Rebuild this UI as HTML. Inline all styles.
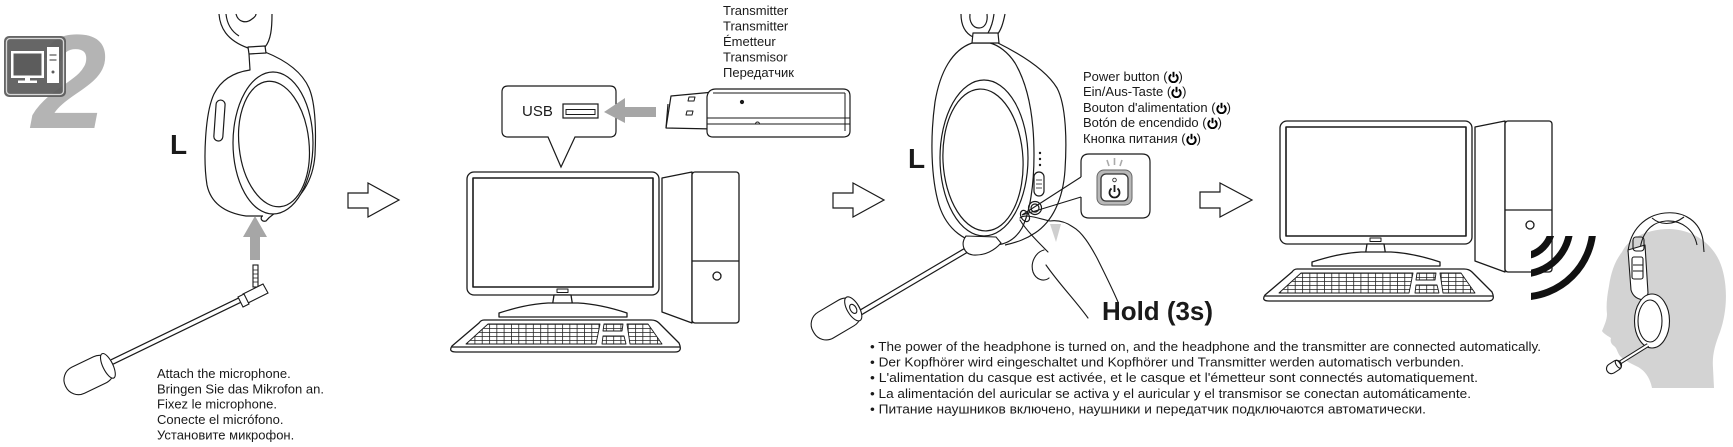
<!DOCTYPE html>
<html><head><meta charset="utf-8">
<style>
html,body{margin:0;padding:0;background:#fff;}
body{width:1733px;height:447px;position:relative;overflow:hidden;font-family:"Liberation Sans",Arial,sans-serif;color:#1a1a1a;}
svg.main{position:absolute;left:0;top:0;}
.t{position:absolute;font-size:13px;line-height:15.5px;white-space:pre;}
.pw{display:inline-block;width:11px;height:12px;vertical-align:-2px;}
</style></head><body>
<svg class="main" width="1733" height="447" viewBox="0 0 1733 447" xmlns="http://www.w3.org/2000/svg" font-family="Liberation Sans, Arial, sans-serif">
<defs>
 <clipPath id="wc"><rect x="1531" y="236" width="120" height="120"/></clipPath>
 <pattern id="kp" patternUnits="userSpaceOnUse" x="0" y="324" width="7.3" height="4">
   <path d="M0 0.4 H7.3 M0.4 0 V4" stroke="#222" stroke-width="0.8" fill="none"/>
 </pattern>
 <g id="pc" fill="#fff" stroke="#1a1a1a" stroke-width="1.3" stroke-linejoin="round">
   <path d="M662 178 L692 172 L692 323 L662 312 Z"/>
   <rect x="692" y="172" width="47" height="151" rx="3"/>
   <path d="M692 261 H739" fill="none"/>
   <circle cx="717" cy="276" r="4"/>
   <rect x="467" y="172" width="192" height="123" rx="7"/>
   <rect x="473" y="178" width="180" height="109" stroke-width="1.6"/>
   <rect x="557" y="289" width="11" height="3.5" stroke-width="1"/>
   <path d="M554 295 L571 295 L573 308 L552 308 Z"/>
   <path d="M499 313 C515 308 530 304 548 303 L578 303 C596 304 612 308 627 313 L627 317 L499 317 Z"/>
   <path d="M484 320 L651 320 Q656 320 659 323 L679 343 Q683 352 675 352 L456 352 Q448 352 452 346 L479 323 Q481 320 484 320 Z"/>
   <path d="M452 347 L680 347" fill="none"/>
   <path d="M488 324 L600 324 L596 344 L466 344 Z" fill="url(#kp)" stroke-width="0.9"/>
   <path d="M604 324 L623 324 L622 331 L603 331 Z" fill="url(#kp)" stroke-width="0.9"/>
   <path d="M603 336 L624 336 L626 344 L602 344 Z" fill="url(#kp)" stroke-width="0.9"/>
   <path d="M627 324 L648 324 L662 344 L630 344 Z" fill="url(#kp)" stroke-width="0.9"/>
 </g>
</defs>

<!-- Big 2 and icon -->
<text x="32" y="128" font-size="134" font-weight="bold" font-style="italic" fill="#b4b4b4">2</text>
<rect x="4" y="36" width="62" height="61" rx="5" fill="#5c5c5c" fill-opacity="0.94"/>
<rect x="6.5" y="38.5" width="57" height="56" rx="3.5" fill="none" stroke="#d8d8d8" stroke-width="1.3"/>
<rect x="11" y="51" width="33" height="27" fill="#fff"/>
<rect x="13.5" y="53.5" width="28" height="22" fill="#5c5c5c"/>
<rect x="25" y="78" width="5" height="3" fill="#fff"/>
<rect x="18" y="80.5" width="19" height="2.5" fill="#fff"/>
<rect x="47" y="47" width="12" height="36" fill="#fff"/>
<path d="M49.5 55 H56.5 M49.5 60 H56.5" stroke="#5c5c5c" stroke-width="1.3"/>
<circle cx="53" cy="72" r="1.5" fill="#5c5c5c"/>

<!-- Headphone 1 -->
<g fill="none" stroke="#1a1a1a" stroke-width="1.2" stroke-linejoin="round">
 <path d="M219 14 C220 27 226 40 248 48"/>
 <path d="M226 14 C227 24 231 31 239 36"/>
 <path d="M236 14 C238 22 246 24 252 19 C255 17 256 15 256 14"/>
 <path d="M272 14 C272 28 271 40 265 47"/>
 <path d="M265 52 C285 60 302 72 309 88 C316 104 316 135 315 155 C313 182 300 200 282 209 C275 213 270 216 266 221 C262 222 260 219 262 216" fill="#fff"/>
 <path d="M249 54 L250 70 C236 72 222 78 214 94 C205 113 203 160 207 185 C211 204 226 213 246 216 L263 216" fill="#fff"/>
 <path d="M248 47 L265 46 L266 53 L249 54 Z" fill="#fff"/>
 <rect x="215" y="100" width="9" height="41" rx="4.5" transform="rotate(4 219 120)"/>
 <ellipse cx="273" cy="143" rx="40" ry="71" fill="#fff"/>
 <ellipse cx="274" cy="144" rx="35" ry="63" transform="rotate(-6 274 144)"/>
</g>
<text x="170" y="154" font-size="28" font-weight="bold" fill="#1a1a1a">L</text>

<!-- up arrow -->
<path d="M255 216 L267 237 L260 237 L260 260 L250 260 L250 237 L243 237 Z" fill="#a6a6a6"/>

<!-- mic 1 -->
<g stroke="#1a1a1a" stroke-width="1.1" fill="#fff">
 <rect x="253" y="265" width="5" height="22" fill="#fff"/>
 <path d="M253 270 H258 M253 274 H258 M253 278 H258 M253 282 H258" fill="none" stroke-width="0.8"/>
 <line x1="240" y1="300" x2="112" y2="362" stroke-width="6"/>
 <line x1="240" y1="300" x2="112" y2="362" stroke="#fff" stroke-width="3.6"/>
 <path d="M243 294 L263 284 L268 293 L248 303 Z"/>
 <path d="M238 297 L244 294 L249 304 L243 307 Z"/>
 <g transform="translate(89,375) rotate(-25.8)">
  <rect x="-26" y="-14.5" width="52" height="29" rx="14"/>
  <ellipse cx="21" cy="0" rx="5" ry="13.5"/>
 </g>
</g>
<g font-size="13" fill="#1a1a1a">
 <text x="157" y="378">Attach the microphone.</text>
 <text x="157" y="393.3">Bringen Sie das Mikrofon an.</text>
 <text x="157" y="408.6">Fixez le microphone.</text>
 <text x="157" y="424">Conecte el micrófono.</text>
 <text x="157" y="439.3">Установите микрофон.</text>
</g>

<!-- outline arrows -->
<g fill="#fff" stroke="#1a1a1a" stroke-width="1.2" stroke-linejoin="miter">
 <path d="M348 193 H368 V183 L399 200 L368 217 V208 H348 Z"/>
 <path d="M833 193 H853 V183 L884 200 L853 217 V208 H833 Z"/>
 <path d="M1200 192 H1220 V183 L1252 200 L1220 217 V208 H1200 Z"/>
</g>

<!-- computers -->
<use href="#pc"/>
<use href="#pc" transform="translate(813,-51)"/>

<!-- USB bubble -->
<path d="M508 86 H610 Q616 86 616 92 V131 Q616 137 610 137 H575 L561 167 L548 137 H508 Q502 137 502 131 V92 Q502 86 508 86 Z" fill="#fff" stroke="#1a1a1a" stroke-width="1.2"/>
<text x="522" y="116" font-size="15" fill="#1a1a1a">USB</text>
<rect x="563" y="104" width="35" height="14" fill="#fff" stroke="#1a1a1a" stroke-width="1.2"/>
<rect x="566" y="109.5" width="29" height="5" fill="none" stroke="#1a1a1a" stroke-width="1"/>
<path d="M604 112 L625 98 L625 107 L656 107 L656 117 L625 117 L625 123 Z" fill="#a6a6a6"/>

<!-- transmitter -->
<g fill="#fff" stroke="#1a1a1a" stroke-width="1.2" stroke-linejoin="round">
 <path d="M671 96 L714 92 L714 129 L666 128 Z"/>
 <path d="M668 104 L666 128" fill="none"/>
 <path d="M689 97 L695 97 L694 101 L688 101 Z" stroke-width="1"/>
 <path d="M687 111 L693 111 L692 115 L686 115 Z" stroke-width="1"/>
 <path d="M716 89 H843 Q850 89 850 96 V131 Q850 137 843 137 H713 Q707 137 707 131 V97 Q708 89 716 89 Z"/>
 <path d="M713 93 H845 M707 118 H850 M707 124 H850 M845 93 V131" fill="none" stroke-width="1"/>
 <circle cx="742" cy="102" r="1.5" fill="#1a1a1a"/>
 <path d="M755.5 124 A2 2 0 0 1 759.5 124" fill="none" stroke-width="1"/>
</g>
<g font-size="13" fill="#1a1a1a">
 <text x="723" y="15">Transmitter</text>
 <text x="723" y="30.5">Transmitter</text>
 <text x="723" y="46">Émetteur</text>
 <text x="723" y="61.5">Transmisor</text>
 <text x="723" y="77">Передатчик</text>
</g>

<!-- Headphone 2 -->
<g fill="none" stroke="#1a1a1a" stroke-width="1.2" stroke-linejoin="round">
 <path d="M961 14 C961 25 965 33 973 37"/>
 <path d="M970 14 C969 22 973 28 979 28 C985 28 988 22 987 14"/>
 <path d="M994 14 C993 22 991 28 988 33"/>
 <path d="M1005 14 C1003 24 1001 30 997 35"/>
 <path d="M998 43 C1022 55 1046 70 1057 88 C1066 105 1067 140 1065 170 C1063 200 1052 222 1035 233 C1026 239 1018 242 1005 245" fill="#fff"/>
 <path d="M972 43 C952 50 940 72 935 102 C930 138 931 178 939 205 C947 230 965 243 990 245 C1005 246 1015 240 1022 228 C1030 212 1034 185 1034 155 C1034 115 1028 85 1015 63 C1008 52 998 45 990 43 Z" fill="#fff"/>
 <path d="M973 33 L998 33 L999 43 L972 43 Z" fill="#fff"/>
 <ellipse cx="984" cy="158" rx="44" ry="78"/>
 <ellipse cx="983" cy="160" rx="40" ry="71" transform="rotate(-3 983 160)"/>
 <rect x="1034" y="172" width="10" height="24" rx="5"/>
 <path d="M1036 180 H1042 M1036 184 H1042 M1036 188 H1042" stroke-width="0.8"/>
 <circle cx="1035" cy="208" r="6.5"/>
 <circle cx="1035" cy="208" r="4"/>
 <ellipse cx="1025" cy="216" rx="4" ry="6" transform="rotate(-30 1025 216)"/>
</g>
<circle cx="1040" cy="153" r="1.2" fill="#1a1a1a"/>
<circle cx="1040" cy="159" r="1.2" fill="#1a1a1a"/>
<circle cx="1040" cy="165" r="1.2" fill="#1a1a1a"/>
<text x="908" y="168" font-size="28" font-weight="bold" fill="#1a1a1a">L</text>

<!-- mic 2 -->
<g stroke="#1a1a1a" stroke-width="1.1" fill="#fff">
 <line x1="970" y1="248" x2="853" y2="317" stroke-width="6"/>
 <line x1="970" y1="248" x2="853" y2="317" stroke="#fff" stroke-width="3.6"/>
 <path d="M966 236 C960 244 964 254 973 255 C985 256 995 250 1001 243 L996 237 Z"/>
 <g transform="translate(836,319) rotate(-30.5)">
  <rect x="-26" y="-15" width="52" height="30" rx="14"/>
  <ellipse cx="20" cy="0" rx="6" ry="13.5"/>
  <ellipse cx="20" cy="0" rx="3" ry="5"/>
 </g>
</g>

<!-- hand -->
<g fill="none" stroke="#1a1a1a" stroke-width="1.1" stroke-linejoin="round" stroke-linecap="round">
 <path d="M1050 224 L1061 224 L1056 242 Z" fill="#cfcfcf" stroke="none"/>
 <path d="M1020 218 C1025 213 1040 219 1050 221 C1058 220 1066 222 1073 227 C1082 232 1090 245 1097 258 C1104 272 1112 288 1118 302"/>
 <path d="M1020 220 C1026 230 1038 242 1048 252"/>
 <path d="M1044 250 C1036 252 1030 262 1033 272 C1036 280 1044 282 1049 278"/>
 <path d="M1046 265 C1060 285 1075 300 1088 318"/>
</g>

<!-- callout -->
<path d="M1081 177 L1022 215 L1081 197" fill="none" stroke="#1a1a1a" stroke-width="1.1"/>
<path d="M1081 177 V162 Q1081 154 1089 154 H1142 Q1150 154 1150 162 V210 Q1150 218 1142 218 H1089 Q1081 218 1081 210 V197" fill="none" stroke="#1a1a1a" stroke-width="1.2"/>
<rect x="1097" y="170" width="35" height="35" rx="7" fill="#b8b8b8" stroke="#666" stroke-width="1"/>
<rect x="1101" y="174" width="27" height="27" rx="5" fill="#fff" stroke="#333" stroke-width="1.3"/>
<circle cx="1114.5" cy="180" r="1.8" fill="none" stroke="#333" stroke-width="0.9"/>
<path d="M1111.5 188.5 A5 5 0 1 0 1117.5 188.5" fill="none" stroke="#1a1a1a" stroke-width="1.8"/>
<path d="M1114.5 185 V192" stroke="#1a1a1a" stroke-width="1.8"/>
<path d="M1107 160 L1109 166 M1114.5 158 V165 M1122 160 L1120 166" stroke="#aaa" stroke-width="1.6"/>

<text x="1102" y="320" font-size="26" font-weight="bold" fill="#1a1a1a" textLength="111" lengthAdjust="spacingAndGlyphs">Hold (3s)</text>

<!-- bullets -->
<g font-size="13" fill="#1a1a1a">
 <text x="870" y="351" textLength="671" lengthAdjust="spacingAndGlyphs">• The power of the headphone is turned on, and the headphone and the transmitter are connected automatically.</text>
 <text x="870" y="366.6" textLength="594" lengthAdjust="spacingAndGlyphs">• Der Kopfhörer wird eingeschaltet und Kopfhörer und Transmitter werden automatisch verbunden.</text>
 <text x="870" y="382.2" textLength="608" lengthAdjust="spacingAndGlyphs">• L'alimentation du casque est activée, et le casque et l'émetteur sont connectés automatiquement.</text>
 <text x="870" y="397.8" textLength="601" lengthAdjust="spacingAndGlyphs">• La alimentación del auricular se activa y el auricular y el transmisor se conectan automáticamente.</text>
 <text x="870" y="413.4" textLength="556" lengthAdjust="spacingAndGlyphs">• Питание наушников включено, наушники и передатчик подключаются автоматически.</text>
</g>

<!-- waves -->
<g clip-path="url(#wc)" fill="none" stroke="#111" stroke-width="7">
 <path d="M1552 226 A30 30 0 0 1 1522 256"/>
 <path d="M1570 226 A48 48 0 0 1 1522 274"/>
 <path d="M1593 226 A71 71 0 0 1 1522 297"/>
</g>

<!-- person -->
<path d="M1622 252 C1630 236 1650 229 1670 229 C1695 230 1715 245 1722 268 C1728 288 1727 312 1720 332 C1715 345 1712 355 1713 368 L1714 388 L1652 388 C1650 378 1645 370 1636 366 C1630 363 1624 360 1620 356 C1617 352 1617 348 1614 346 C1611 344 1610 341 1611 338 C1608 336 1604 334 1602 331 C1604 326 1607 320 1607 314 C1606 306 1607 296 1609 286 C1611 272 1615 261 1622 252 Z" fill="#d3d3d3"/>
<g fill="none" stroke="#1a1a1a" stroke-width="1.1" stroke-linejoin="round">
 <path d="M1628 252 C1630 230 1645 215 1665 213 C1685 211 1700 222 1703 240 L1704 252"/>
 <path d="M1640 250 C1642 232 1652 222 1666 221 C1682 220 1694 230 1697 245"/>
 <path d="M1652 218 C1660 225 1672 226 1684 217"/>
 <path d="M1628 250 L1631 290 C1633 297 1638 300 1646 300 L1648 293 L1645 245 Z" fill="#fff"/>
 <rect x="1633" y="237" width="11" height="14" rx="3"/>
 <rect x="1632" y="257" width="11" height="22" rx="2"/>
 <path d="M1633 265 H1643 M1633 271 H1643"/>
 <ellipse cx="1652" cy="321" rx="17.5" ry="27" fill="#fff"/>
 <ellipse cx="1650" cy="321" rx="12" ry="21"/>
 <line x1="1648" y1="345" x2="1616" y2="365" stroke-width="4"/>
 <line x1="1648" y1="345" x2="1616" y2="365" stroke="#fff" stroke-width="2"/>
 <g transform="translate(1614,367) rotate(-33)">
  <rect x="-8" y="-5" width="16" height="10" rx="5" fill="#fff"/>
  <ellipse cx="5" cy="0" rx="2" ry="4.5"/>
 </g>
</g>
</svg>

<div class="t" style="left:1083px;top:68.7px;">Power button (<svg class="pw" viewBox="0 0 11 12"><path d="M3.2 3.5 A4.2 4.2 0 1 0 7.8 3.5" fill="none" stroke="#000" stroke-width="1.9"/><path d="M5.5 0.8 V6.2" stroke="#000" stroke-width="1.9"/></svg>)
Ein/Aus-Taste (<svg class="pw" viewBox="0 0 11 12"><path d="M3.2 3.5 A4.2 4.2 0 1 0 7.8 3.5" fill="none" stroke="#000" stroke-width="1.9"/><path d="M5.5 0.8 V6.2" stroke="#000" stroke-width="1.9"/></svg>)
Bouton d'alimentation (<svg class="pw" viewBox="0 0 11 12"><path d="M3.2 3.5 A4.2 4.2 0 1 0 7.8 3.5" fill="none" stroke="#000" stroke-width="1.9"/><path d="M5.5 0.8 V6.2" stroke="#000" stroke-width="1.9"/></svg>)
Botón de encendido (<svg class="pw" viewBox="0 0 11 12"><path d="M3.2 3.5 A4.2 4.2 0 1 0 7.8 3.5" fill="none" stroke="#000" stroke-width="1.9"/><path d="M5.5 0.8 V6.2" stroke="#000" stroke-width="1.9"/></svg>)
Кнопка питания (<svg class="pw" viewBox="0 0 11 12"><path d="M3.2 3.5 A4.2 4.2 0 1 0 7.8 3.5" fill="none" stroke="#000" stroke-width="1.9"/><path d="M5.5 0.8 V6.2" stroke="#000" stroke-width="1.9"/></svg>)</div>
</body></html>
